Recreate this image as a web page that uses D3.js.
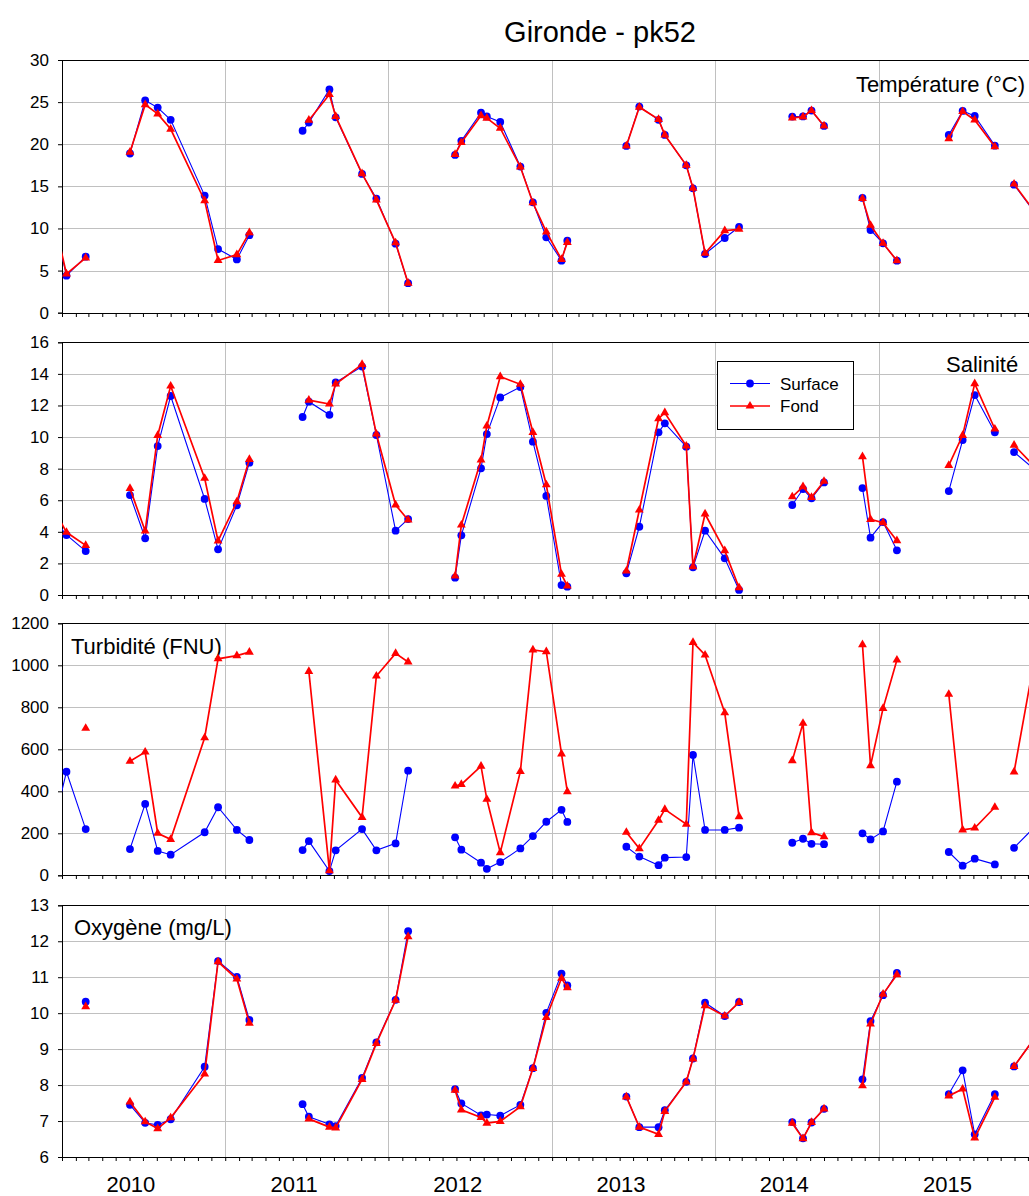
<!DOCTYPE html>
<html><head><meta charset="utf-8">
<script src="https://cdn.jsdelivr.net/npm/d3@7"></script>
<style>
html,body{margin:0;padding:0;background:#fff;}
svg{display:block;font-family:"Liberation Sans",Arial,sans-serif;}
</style></head>
<body><svg id="chart" width="1029" height="1196"></svg>
<script>
// ---- DATA ----
const chartTitle = "Gironde - pk52";
const seriesNames = ["Surface", "Fond"];
const yearLabels = ["2010", "2011", "2012", "2013", "2014", "2015"];
// sampling dates (null rows are blank rows that break the lines)
const dates = [
 "2009-12-11","2010-01-11","2010-02-23","2010-04-15",
 "2010-06-02","2010-07-06","2010-08-03","2010-09-01","2010-11-16","2010-12-16","2011-01-27","2011-02-24","2011-04-15",
 "2011-06-23","2011-07-07","2011-08-22","2011-09-05","2011-11-03","2011-12-05","2012-01-17","2012-02-14","2012-04-15",
 "2012-05-29","2012-06-12","2012-07-26","2012-08-08","2012-09-07","2012-10-22","2012-11-19","2012-12-19","2013-01-22","2013-02-04","2013-04-15",
 "2013-06-16","2013-07-15","2013-08-27","2013-09-10","2013-10-28","2013-11-12","2013-12-09","2014-01-22","2014-02-23","2014-04-15",
 "2014-06-22","2014-07-16","2014-08-04","2014-09-01","2014-10-15",
 "2014-11-26","2014-12-14","2015-01-11","2015-02-11","2015-04-15",
 "2015-06-07","2015-07-08","2015-08-04","2015-09-18","2015-10-10",
 "2015-10-31","2015-12-13"
];
const tempSurface = [11.6,4.4,6.65,null, 18.9,25.2,24.35,22.9,13.9,7.55,6.33,9.2,null,
 21.6,22.57,26.5,23.2,16.47,13.55,8.2,3.5,null,
 18.73,20.4,23.75,23.3,22.65,17.35,13.1,8.95,6.18,8.55,null,
 19.8,24.47,22.9,21.1,17.5,14.77,6.97,8.87,10.18,null,
 23.28,23.3,24.0,22.17,null, 13.62,9.82,8.24,6.18,null,
 21.1,23.95,23.36,19.83,null, 15.2,12.1];
const tempFond = [11.8,4.6,6.5,null, 19.05,24.7,23.6,21.8,13.3,6.2,6.9,9.5,null,
 null,22.85,25.9,23.3,16.5,13.4,8.3,3.5,null,
 18.8,20.2,23.4,23.1,21.9,17.3,13.05,9.6,6.33,8.35,null,
 19.8,24.4,22.95,21.1,17.5,14.77,7.05,9.74,9.9,null,
 23.12,23.24,24.0,22.17,null, 13.55,10.38,8.24,6.18,null,
 20.67,23.88,22.88,19.7,null, 15.28,12.2];
const salSurface = [4.9,3.8,2.78,null, 6.33,3.59,9.43,12.6,6.08,2.89,5.68,8.38,null,
 11.27,12.24,11.41,13.46,14.46,10.13,4.07,4.81,null,
 1.1,3.78,8.02,10.19,12.51,13.17,9.71,6.27,0.63,0.53,null,
 1.37,4.32,10.3,10.87,9.39,1.75,4.07,2.32,0.32,null,
 5.7,6.71,6.12,7.13,null, 6.77,3.63,4.62,2.83,null,
 6.58,9.81,12.66,10.3,null, 9.05,8.02];
const salFond = [5.6,3.97,3.14,null, 6.75,4.05,10.1,13.23,7.39,3.42,5.9,8.59,null,
 null,12.34,12.09,13.36,14.6,10.19,5.7,4.75,null,
 1.2,4.43,8.55,10.7,13.83,13.34,10.3,6.98,1.31,0.57,null,
 1.52,5.38,11.16,11.54,9.43,1.79,5.13,2.81,0.46,null,
 6.22,6.86,6.18,7.2,null, 8.76,4.79,4.58,3.44,null,
 8.21,10.11,13.38,10.51,null, 9.49,8.22];
const turbSurface = [218,493,220,null, 125,340,116,98,205,324,216,168,null,
 120,163,20,119,220,119,152,498,null,
 181,122,60,31,63,128,187,255,312,254,null,
 136,89,48,84,87,573,216,216,227,null,
 155,174,150,148,null, 200,171,209,446,null,
 111,46,79,52,null, 131,224];
const turbFond = [null,null,700,null, 543,587,200,171,655,1031,1046,1063,null,
 null,971,22,454,276,949,1057,1016,null,
 425,433,520,362,108,495,1073,1065,578,398,null,
 205,127,262,314,243,1109,1049,774,279,null,
 546,724,203,184,null, 1098,522,795,1025,null,
 862,216,225,324,null, 492,1000];
const oxySurface = [null,null,10.32,null, 7.45,6.95,6.89,7.05,8.51,11.45,11.01,9.81,null,
 7.47,7.12,6.91,6.86,8.2,9.19,10.37,12.28,null,
 7.89,7.49,7.16,7.18,7.15,7.45,8.47,10.01,11.1,10.77,null,
 7.68,6.83,6.83,7.3,8.09,8.74,10.29,9.92,10.31,null,
 6.97,6.52,6.96,7.34,null, 8.16,9.78,10.5,11.12,null,
 7.75,8.41,6.63,7.75,null, 8.52,9.26];
const oxyFond = [null,null,10.18,null, 7.53,6.98,6.79,7.09,8.31,11.43,10.95,9.72,null,
 null,7.06,6.83,6.81,8.16,9.16,10.36,12.13,null,
 7.86,7.31,7.1,6.94,6.99,7.4,8.46,9.88,10.97,10.71,null,
 7.67,6.83,6.63,7.27,8.09,8.73,10.21,9.92,10.3,null,
 6.94,6.51,6.96,7.34,null, 7.98,9.7,10.53,11.07,null,
 7.7,7.89,6.53,7.66,null, 8.52,9.26];

const panelTitles = ["Température (°C)", "Salinité", "Turbidité (FNU)", "Oxygène (mg/L)"];
const yDomains = [[0,30],[0,16],[0,1200],[6,13]];
const yTickSteps = [5,2,200,1];

// ---- LAYOUT ----
const parse = d3.timeParse("%Y-%m-%d");
const dts = dates.map(parse);
const svg = d3.select("#chart");
const X0 = 62, YEARW = 163.3;
const x = d3.scaleTime().domain([new Date(2010,0,1), new Date(2016,0,1)]).range([X0, X0 + 6*YEARW]);
const xR = X0 + 6*YEARW;

const panels = [
  {top:60, bottom:312.7, s:tempSurface, f:tempFond, label:{x:856,y:92,anchor:"start"}},
  {top:342.3, bottom:595, s:salSurface, f:salFond, label:{x:946,y:372,anchor:"start"}, legend:true},
  {top:623.3, bottom:875.3, s:turbSurface, f:turbFond, label:{x:71,y:654,anchor:"start"}},
  {top:905.3, bottom:1157, s:oxySurface, f:oxyFond, label:{x:74,y:935,anchor:"start"}}
];
const blue = "#0000ff", red = "#ff0000", grid = "#c0c0c0";

svg.append("text").attr("x", 600).attr("y", 42).attr("text-anchor","middle")
  .attr("font-size", 29).attr("fill","#000").text(chartTitle);

const defs = svg.append("defs");
const triPath = d3.symbol().type(d3.symbolTriangle).size(34)();

panels.forEach((p, i) => {
  const y = d3.scaleLinear().domain(yDomains[i]).range([p.bottom, p.top]);
  const ticks = d3.range(yDomains[i][0], yDomains[i][1] + 1e-9, yTickSteps[i]);
  const g = svg.append("g");

  // horizontal grid
  g.selectAll(".hg").data(ticks.slice(1, -1)).join("line")
    .attr("x1", X0).attr("x2", xR)
    .attr("y1", d => Math.round(y(d)) + 0.5).attr("y2", d => Math.round(y(d)) + 0.5)
    .attr("stroke", grid).attr("stroke-width", 1);
  // vertical year grid
  const years = d3.timeYear.range(new Date(2011,0,1), new Date(2016,0,2));
  g.selectAll(".vg").data(years).join("line")
    .attr("x1", d => Math.round(x(d)) + 0.5).attr("x2", d => Math.round(x(d)) + 0.5)
    .attr("y1", p.top).attr("y2", p.bottom)
    .attr("stroke", grid).attr("stroke-width", 1);
  // top border
  g.append("line").attr("x1", X0).attr("x2", xR)
    .attr("y1", Math.round(p.top) + 0.5).attr("y2", Math.round(p.top) + 0.5)
    .attr("stroke", "#000");

  // x axis (monthly ticks)
  const xa = g.append("g").attr("transform", `translate(0,${Math.round(p.bottom)})`)
    .call(d3.axisBottom(x).ticks(d3.timeMonth.every(1)).tickSize(4).tickFormat(""));
  xa.select(".domain").attr("stroke", "#000");
  xa.selectAll(".tick line").attr("stroke", "#000");

  // y axis
  const ya = g.append("g").attr("transform", `translate(${X0},0)`)
    .call(d3.axisLeft(y).tickValues(ticks).tickSize(4).tickPadding(9).tickFormat(d3.format("d")));
  ya.select(".domain").attr("stroke", "#000");
  ya.selectAll(".tick line").attr("stroke", "#000");
  ya.selectAll(".tick text").attr("font-size", 17).attr("fill", "#000")
    .attr("font-family", "Liberation Sans, Arial, sans-serif");

  // panel label
  g.append("text").attr("x", p.label.x).attr("y", p.label.y).attr("text-anchor", p.label.anchor)
    .attr("font-size", 22).attr("fill", "#000").text(panelTitles[i]);

  // clip
  const cid = "clip" + i;
  defs.append("clipPath").attr("id", cid).append("rect")
    .attr("x", X0).attr("y", p.top - 10).attr("width", xR - X0).attr("height", p.bottom - p.top + 20);
  const dg = g.append("g").attr("clip-path", `url(#${cid})`);

  const line = d3.line().defined(d => d[1] != null).x(d => x(d[0])).y(d => y(d[1]));
  const sData = dts.map((d, k) => [d, p.s[k]]);
  const fData = dts.map((d, k) => [d, p.f[k]]);

  dg.append("path").attr("d", line(sData)).attr("fill","none").attr("stroke", blue).attr("stroke-width", 1.1);
  dg.selectAll(".cs").data(sData.filter(d => d[1] != null)).join("circle")
    .attr("cx", d => x(d[0])).attr("cy", d => y(d[1])).attr("r", 3.9).attr("fill", blue);
  dg.append("path").attr("d", line(fData)).attr("fill","none").attr("stroke", red).attr("stroke-width", 1.7);
  dg.selectAll(".tf").data(fData.filter(d => d[1] != null)).join("path")
    .attr("d", triPath).attr("transform", d => `translate(${x(d[0])},${y(d[1])})`).attr("fill", red);

  if (p.legend) {
    const lg = svg.append("g");
    lg.append("rect").attr("x", 717.5).attr("y", 361.5).attr("width", 136).attr("height", 68)
      .attr("fill", "#fff").attr("stroke", "#000").attr("stroke-width", 1);
    const rows = [{name: seriesNames[0], c: blue, y: 383.5, m: "c"}, {name: seriesNames[1], c: red, y: 406, m: "t"}];
    rows.forEach(r => {
      lg.append("line").attr("x1", 730).attr("x2", 770).attr("y1", r.y).attr("y2", r.y)
        .attr("stroke", r.c).attr("stroke-width", r.m === "c" ? 1.1 : 1.7);
      if (r.m === "c") lg.append("circle").attr("cx", 750).attr("cy", r.y).attr("r", 3.9).attr("fill", r.c);
      else lg.append("path").attr("d", triPath).attr("transform", `translate(750,${r.y})`).attr("fill", r.c);
      lg.append("text").attr("x", 780).attr("y", r.y + 6).attr("font-size", 17).attr("fill", "#000").text(r.name);
    });
  }
});

// year labels
svg.selectAll(".yl").data(yearLabels).join("text")
  .attr("x", d => x(new Date(+d, 5, 4))).attr("y", 1192)
  .attr("text-anchor", "middle").attr("font-size", 22).attr("fill", "#000").text(d => d);
</script>
</body></html>
